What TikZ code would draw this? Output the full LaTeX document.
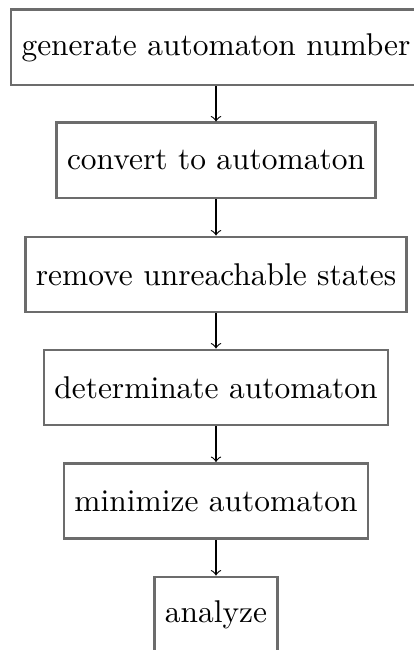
\documentclass[tikz,border=0pt]{standalone}
\usetikzlibrary{arrows}
\definecolor{boxgray}{RGB}{108,108,108}
\tikzset{
  stepbox/.style={draw=boxgray, line width=0.8pt, fill=white,
    minimum height=24pt, inner xsep=3.33pt, inner ysep=0pt},
  flow/.style={->, line width=0.35pt, black}
}
\begin{document}
\begin{tikzpicture}[x=0.318pt, y=-0.318pt]
  \useasboundingbox (0,0) rectangle (413,650);
  \node[stepbox] (gen)  at (216,47.5)  {generate automaton number};
  \node[stepbox] (conv) at (216,160.5) {convert to automaton};
  \node[stepbox] (rem)  at (216,274.5) {remove unreachable states};
  \node[stepbox] (det)  at (216,387.5) {determinate automaton};
  \node[stepbox] (min)  at (216,501)   {minimize automaton};
  \node[stepbox] (ana)  at (216,614.5) {analyze};
  \draw[flow] (gen) -- (conv);
  \draw[flow] (conv) -- (rem);
  \draw[flow] (rem) -- (det);
  \draw[flow] (det) -- (min);
  \draw[flow] (min) -- (ana);
\end{tikzpicture}
\end{document}
